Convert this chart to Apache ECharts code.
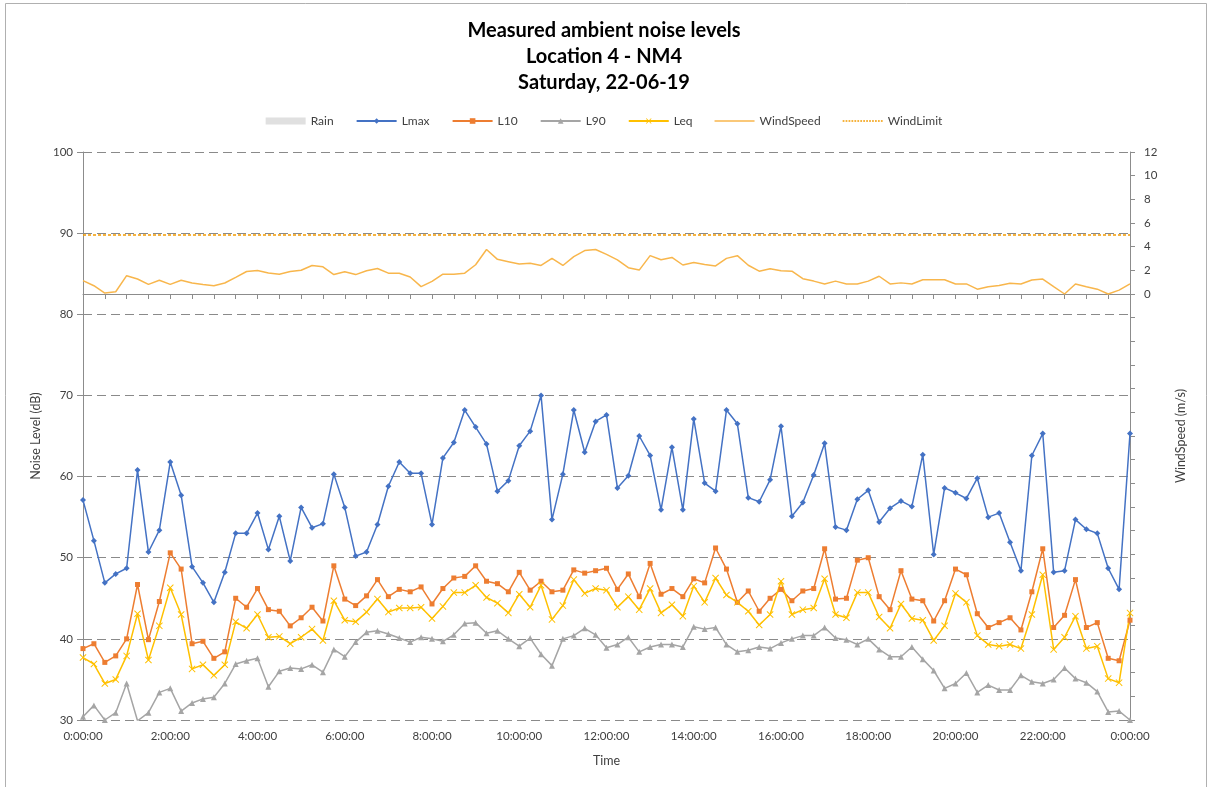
<!DOCTYPE html>
<html>
<head>
<meta charset="utf-8">
<title>Measured ambient noise levels - NM4</title>
<script src="https://cdn.jsdelivr.net/npm/echarts@6/dist/echarts.min.js"></script>
<style>
  html, body { margin: 0; padding: 0; background: #ffffff; }
  #chart { width: 1208px; height: 787px; }
</style>
</head>
<body>
<div id="chart"></div>
<script>
// 15-minute intervals across Saturday 22-06-19 (00:00 to 24:00)
const timeLabels = [];
for (let q = 0; q <= 96; q++) {
  const h = Math.floor(q / 4) % 24;
  const m = (q % 4) * 15;
  timeLabels.push(h + ':' + String(m).padStart(2, '0') + ':00');
}

// Noise levels, dB
const lmax = [
  57.1, 52.1, 46.9, 48.0, 48.7, 60.8, 50.7, 53.4, 61.8, 57.7,
  48.9, 46.9, 44.5, 48.2, 53.0, 53.0, 55.5, 51.0, 55.1, 49.6,
  56.2, 53.7, 54.2, 60.3, 56.2, 50.2, 50.7, 54.1, 58.8, 61.8,
  60.4, 60.4, 54.1, 62.3, 64.2, 68.2, 66.1, 64.0, 58.2, 59.5,
  63.8, 65.6, 70.0, 54.7, 60.3, 68.2, 63.0, 66.8, 67.6, 58.6,
  60.1, 65.0, 62.6, 55.9, 63.6, 55.9, 67.1, 59.2, 58.2, 68.2,
  66.5, 57.4, 56.9, 59.6, 66.2, 55.1, 56.8, 60.2, 64.1, 53.8,
  53.4, 57.2, 58.3, 54.4, 56.1, 57.0, 56.3, 62.7, 50.4, 58.6,
  58.0, 57.3, 59.8, 55.0, 55.5, 51.9, 48.4, 62.6, 65.3, 48.2,
  48.4, 54.7, 53.5, 53.0, 48.7, 46.1, 65.3
];
const l10 = [
  38.8, 39.4, 37.1, 37.9, 40.0, 46.7, 39.9, 44.6, 50.6, 48.6,
  39.4, 39.7, 37.6, 38.4, 45.0, 43.9, 46.2, 43.6, 43.4, 41.6,
  42.6, 43.9, 42.2, 49.0, 44.9, 44.1, 45.3, 47.3, 45.2, 46.1,
  45.8, 46.4, 44.3, 46.2, 47.5, 47.7, 49.0, 47.1, 46.8, 45.8,
  48.2, 46.0, 47.1, 45.8, 46.0, 48.5, 48.1, 48.4, 48.7, 46.1,
  48.0, 45.2, 49.3, 45.5, 46.2, 45.2, 47.4, 46.9, 51.2, 48.6,
  44.5, 45.9, 43.4, 45.0, 46.1, 44.7, 45.9, 46.2, 51.1, 44.9,
  45.0, 49.7, 50.0, 45.2, 43.6, 48.4, 44.9, 44.7, 42.2, 44.7,
  48.6, 47.9, 43.1, 41.4, 42.0, 42.6, 41.1, 45.8, 51.1, 41.4,
  42.9, 47.3, 41.4, 42.0, 37.6, 37.3, 42.3
];
const l90 = [
  30.4, 31.8, 30.0, 30.9, 34.5, 29.9, 30.9, 33.4, 33.9, 31.1,
  32.1, 32.6, 32.8, 34.5, 36.9, 37.3, 37.6, 34.1, 36.0, 36.4,
  36.3, 36.8, 35.9, 38.7, 37.8, 39.6, 40.8, 41.0, 40.6, 40.1,
  39.6, 40.2, 40.0, 39.7, 40.5, 41.9, 42.0, 40.7, 41.0, 40.0,
  39.1, 40.1, 38.1, 36.7, 40.0, 40.4, 41.3, 40.5, 38.9, 39.3,
  40.2, 38.4, 39.0, 39.3, 39.3, 39.0, 41.5, 41.2, 41.4, 39.3,
  38.4, 38.6, 39.0, 38.8, 39.5, 40.0, 40.4, 40.4, 41.4, 40.1,
  39.9, 39.3, 40.0, 38.7, 37.8, 37.8, 39.0, 37.5, 36.1, 33.9,
  34.5, 35.8, 33.4, 34.3, 33.7, 33.7, 35.5, 34.7, 34.5, 35.0,
  36.4, 35.1, 34.6, 33.5, 31.0, 31.1, 30.0
];
const leq = [
  37.7, 36.9, 34.5, 35.0, 37.9, 43.1, 37.4, 41.6, 46.3, 43.0,
  36.3, 36.8, 35.5, 36.8, 42.1, 41.3, 43.0, 40.2, 40.3, 39.4,
  40.2, 41.2, 39.8, 44.7, 42.3, 42.1, 43.3, 44.9, 43.3, 43.8,
  43.8, 43.9, 42.5, 44.0, 45.7, 45.7, 46.6, 45.1, 44.4, 43.2,
  45.5, 43.9, 46.6, 42.4, 44.1, 47.3, 45.6, 46.2, 46.0, 43.9,
  45.2, 43.6, 46.2, 43.2, 44.2, 42.8, 46.5, 44.5, 47.5, 45.4,
  44.5, 43.4, 41.7, 43.0, 47.1, 43.0, 43.6, 43.8, 47.4, 43.0,
  42.6, 45.7, 45.7, 42.7, 41.3, 44.3, 42.5, 42.3, 39.8, 41.6,
  45.6, 44.5, 40.4, 39.3, 39.1, 39.3, 38.8, 43.0, 47.9, 38.7,
  40.2, 42.8, 38.8, 39.1, 35.1, 34.6, 43.2
];

// Wind speed, m/s
const windSpeed = [
  1.13, 0.70, 0.08, 0.19, 1.55, 1.27, 0.81, 1.16, 0.81, 1.16,
  0.93, 0.81, 0.70, 0.93, 1.41, 1.90, 1.99, 1.78, 1.67, 1.90,
  2.01, 2.41, 2.30, 1.64, 1.88, 1.64, 1.96, 2.16, 1.76, 1.76,
  1.44, 0.62, 1.07, 1.67, 1.67, 1.76, 2.47, 3.76, 2.93, 2.73,
  2.53, 2.59, 2.41, 3.02, 2.41, 3.16, 3.67, 3.76, 3.35, 2.89,
  2.22, 2.02, 3.24, 2.89, 3.09, 2.45, 2.66, 2.49, 2.37, 3.01,
  3.24, 2.43, 1.93, 2.14, 1.96, 1.93, 1.29, 1.09, 0.85, 1.09,
  0.85, 0.85, 1.09, 1.50, 0.85, 0.94, 0.85, 1.20, 1.20, 1.20,
  0.85, 0.85, 0.41, 0.62, 0.71, 0.91, 0.85, 1.18, 1.26, 0.62,
  0.00, 0.85, 0.62, 0.41, 0.00, 0.33, 0.85
];
const windLimit = 5;   // m/s
const rain = [];        // no rain recorded

const FONT = 'Lato, "Noto Sans", sans-serif';
const AXIS_GREY = '#8c8c8c';
const TEXT_GREY = '#404040';
const WIND_COLOUR = '#F8B64C';
const LIMIT_COLOUR = '#F29A00';
const crossMark = 'path://M0,1L1,0L5,4L9,0L10,1L6,5L10,9L9,10L5,6L1,10L0,9L4,5Z';

// Legend icons: a solid stroke and a dotted stroke
const solidStroke = 'path://M0,0H40V1.6H0Z';
let dotted = 'path://';
for (let x = 0; x < 40; x += 3) dotted += 'M' + x + ',0H' + (x + 1.8) + 'V1.4H' + x + 'Z';

const chart = echarts.init(document.getElementById('chart'), null, { renderer: 'canvas' });

chart.setOption({
  backgroundColor: '#ffffff',
  animation: false,
  textStyle: { fontFamily: FONT },
  graphic: [{
    type: 'rect',
    shape: { x: 5.5, y: 3.5, width: 1201, height: 800 },
    style: { fill: 'none', stroke: '#b0b0b0', lineWidth: 1 },
    silent: true
  }],
  title: {
    text: 'Measured ambient noise levels\nLocation 4 - NM4\nSaturday, 22-06-19',
    left: 'center',
    top: 13,
    textStyle: { fontFamily: FONT, fontSize: 20, fontWeight: 'bold', color: '#000000', lineHeight: 26 }
  },
  legend: {
    top: 110,
    left: 'center',
    itemWidth: 40,
    itemHeight: 7,
    itemGap: 22,
    textStyle: { fontFamily: FONT, fontSize: 12, color: TEXT_GREY },
    data: [
      { name: 'Rain', icon: 'rect', itemStyle: { color: '#e0e0e0' } },
      'Lmax', 'L10', 'L90', 'Leq',
      { name: 'WindSpeed', icon: solidStroke, itemStyle: { color: WIND_COLOUR } },
      { name: 'WindLimit', icon: dotted, itemStyle: { color: LIMIT_COLOUR } }
    ]
  },
  grid: { left: 83, right: 78, top: 152, bottom: 67 },
  xAxis: {
    type: 'category',
    data: timeLabels,
    boundaryGap: false,
    name: 'Time',
    nameLocation: 'middle',
    nameGap: 34,
    nameTextStyle: { fontFamily: FONT, fontSize: 12.5, color: TEXT_GREY },
    axisLine: { lineStyle: { color: AXIS_GREY, width: 1 } },
    axisTick: { show: true, interval: 1, length: 5, lineStyle: { color: AXIS_GREY } },
    axisLabel: { interval: 7, fontFamily: FONT, fontSize: 11.5, color: TEXT_GREY, margin: 10 },
    splitLine: { show: false }
  },
  yAxis: [{
    type: 'value',
    min: 30,
    max: 100,
    interval: 10,
    name: 'Noise Level (dB)',
    nameLocation: 'middle',
    nameRotate: 90,
    nameGap: 40,
    nameTextStyle: { fontFamily: FONT, fontSize: 12.5, color: TEXT_GREY },
    axisLine: { show: true, lineStyle: { color: AXIS_GREY } },
    axisTick: { show: true, length: 6, lineStyle: { color: AXIS_GREY } },
    axisLabel: { fontFamily: FONT, fontSize: 11.5, color: TEXT_GREY, margin: 10 },
    splitLine: { show: true, lineStyle: { color: '#8a8a8a', type: [9, 5], width: 1 } }
  }, {
    type: 'value',
    min: -36,
    max: 12,
    interval: 2,
    position: 'right',
    name: 'WindSpeed (m/s)',
    nameLocation: 'middle',
    nameRotate: 90,
    nameGap: 44,
    nameTextStyle: { fontFamily: FONT, fontSize: 12.5, color: TEXT_GREY },
    axisLine: { show: true, lineStyle: { color: AXIS_GREY } },
    axisTick: { show: true, length: 5, lineStyle: { color: AXIS_GREY } },
    axisLabel: {
      fontFamily: FONT, fontSize: 11.5, color: TEXT_GREY, margin: 14,
      formatter: v => (v >= 0 ? String(v) : '')
    },
    splitLine: { show: false }
  }],
  series: [
    {
      name: 'Rain', type: 'bar', yAxisIndex: 1, data: rain,
      itemStyle: { color: '#e0e0e0' }
    },
    {
      name: 'Lmax', type: 'line', data: lmax,
      symbol: 'diamond', symbolSize: 6, showAllSymbol: true,
      lineStyle: { color: '#4472C4', width: 1.5 },
      itemStyle: { color: '#4472C4' }, z: 5
    },
    {
      name: 'L10', type: 'line', data: l10,
      symbol: 'rect', symbolSize: 5, showAllSymbol: true,
      lineStyle: { color: '#ED7D31', width: 1.5 },
      itemStyle: { color: '#ED7D31' }, z: 4
    },
    {
      name: 'L90', type: 'line', data: l90,
      symbol: 'triangle', symbolSize: 6, showAllSymbol: true,
      lineStyle: { color: '#A5A5A5', width: 1.5 },
      itemStyle: { color: '#A5A5A5' }, z: 3
    },
    {
      name: 'Leq', type: 'line', data: leq,
      symbol: crossMark, symbolSize: 7, showAllSymbol: true,
      lineStyle: { color: '#FFC000', width: 1.5 },
      itemStyle: { color: '#FFC000' }, z: 4
    },
    {
      name: 'WindSpeed', type: 'line', yAxisIndex: 1, data: windSpeed,
      symbol: 'none',
      lineStyle: { color: WIND_COLOUR, width: 1.5 },
      itemStyle: { color: WIND_COLOUR }, z: 2
    },
    {
      name: 'WindLimit', type: 'line', yAxisIndex: 1, data: [],
      symbol: 'none', z: 6,
      lineStyle: { color: LIMIT_COLOUR, width: 1, type: 'dotted' },
      itemStyle: { color: LIMIT_COLOUR },
      markLine: {
        silent: true,
        symbol: ['none', 'none'],
        label: { show: false },
        lineStyle: { color: LIMIT_COLOUR, width: 1.5, type: [3, 2], opacity: 1 },
        data: [{ yAxis: windLimit }]
      }
    }
  ]
});
</script>
</body>
</html>
